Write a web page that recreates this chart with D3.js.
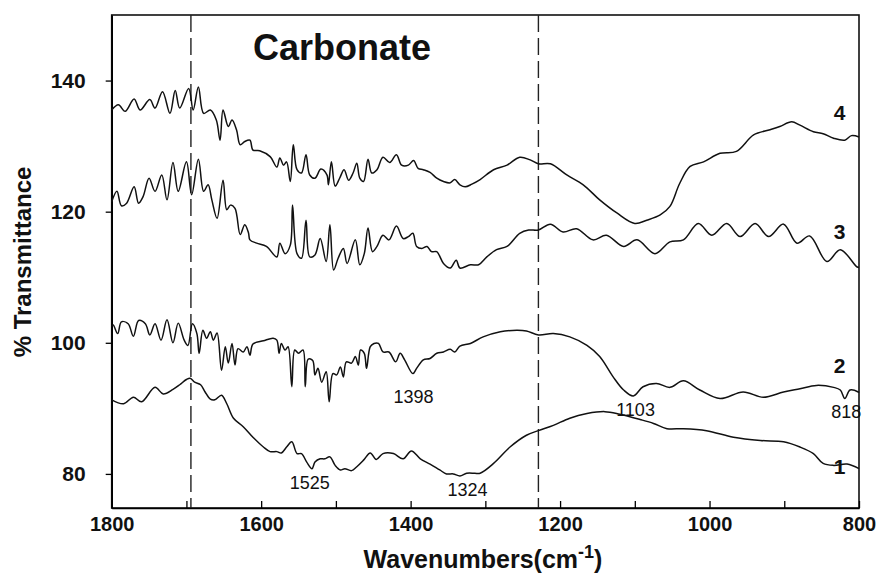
<!DOCTYPE html>
<html><head><meta charset="utf-8">
<script src="https://cdn.jsdelivr.net/npm/d3@7"></script>
<style>body{margin:0;background:#fff}svg{display:block;font-family:"Liberation Sans",Arial,sans-serif}</style>
</head><body><svg id="chart" width="876" height="578"></svg>
<script>
const xTicks = [1800,1600,1400,1200,1000,800];
const xMinorTicks = [1700,1500,1300,1100,900];
const yTicks = [80,100,120,140];
const dashedLines = [1694,1229];
const title = "Carbonate";

const curve4Wn = [1800,1791,1782,1770,1762,1749,1742,1732,1722,1715,1709,1697,1691,1684,1677,1668,1660,1655,1651,1644,1639,1633,1628,1622,1615,1611,1602,1588,1579,1575,1570,1566,1561,1557,1552,1546,1540,1535,1528,1520,1512,1510,1506,1501,1495,1489,1483,1477,1472,1468,1463,1457,1452,1445,1437,1428,1419,1412,1403,1396,1390,1383,1374,1365,1356,1347,1341,1334,1327,1318,1307,1289,1271,1254,1240,1229,1213,1191,1169,1147,1124,1100,1084,1066,1053,1040,1026,1008,986,964,941,919,906,890,879,861,848,834,819,810,800];
const curve4T = [135.5,136.3,135.3,137.2,135.5,137.1,135.8,138.3,135.0,138.5,135.8,138.8,135.5,139.0,135.0,135.5,134.0,130.9,135.5,133.0,134.0,132.5,130.2,130.7,130.9,129.4,129.3,128.4,126.8,128.2,127.1,127.6,124.6,130.2,126.4,125.9,128.7,125.6,125.1,126.5,125.6,124.1,127.6,123.9,125.1,126.4,124.8,125.9,127.4,125.1,124.6,128.0,125.9,126.4,128.3,127.5,128.7,127.1,127.1,127.8,126.6,126.4,126.0,125.1,124.6,124.4,124.9,124.1,123.8,124.2,124.9,126.4,127.1,128.3,127.9,127.3,127.3,125.6,124.1,121.8,119.8,118.2,118.7,119.5,120.8,124.3,126.9,127.6,128.9,129.2,131.7,132.5,133.0,133.7,133.2,132.2,131.9,131.2,130.9,131.6,131.4];

const curve3Wn = [1800,1793,1787,1780,1770,1764,1758,1750,1742,1733,1726,1718,1711,1700,1693,1684,1677,1671,1666,1659,1651,1646,1641,1635,1628,1622,1617,1615,1606,1593,1579,1575,1568,1561,1558,1552,1546,1540,1535,1528,1521,1513,1508,1503,1497,1490,1485,1474,1468,1462,1457,1451,1445,1437,1429,1419,1410,1403,1397,1392,1385,1378,1372,1365,1356,1347,1339,1334,1320,1309,1298,1285,1271,1254,1242,1229,1213,1196,1178,1156,1138,1115,1097,1073,1053,1035,1015,997,977,959,939,921,901,883,866,843,825,803,800];
const curve3T = [121.5,123.1,120.9,121.3,123.8,121.3,122.3,125.1,123.1,125.6,121.8,127.5,123.1,127.6,122.6,128.0,123.1,124.1,121.8,119.0,124.8,120.3,121.0,120.5,116.5,118.0,116.8,115.7,115.2,114.7,113.1,115.2,113.6,114.9,121.0,113.6,112.9,118.7,113.1,113.4,115.9,112.4,118.0,111.1,112.9,114.4,112.1,115.7,111.9,113.6,117.5,113.9,114.7,116.4,115.7,117.8,115.9,116.2,116.7,114.7,114.4,114.7,113.9,113.9,112.1,111.4,112.6,111.4,111.9,111.9,113.1,114.2,114.7,116.7,117.2,117.2,118.1,116.9,117.4,115.7,116.4,114.7,115.7,113.6,115.4,115.7,118.2,116.4,118.2,116.2,118.2,116.2,118.1,115.2,116.3,112.4,114.2,111.6,111.5];

const curve2Wn = [1800,1798,1792,1787,1778,1771,1764,1755,1749,1742,1734,1726,1718,1711,1703,1698,1692,1686,1683,1678,1673,1668,1664,1659,1653,1648,1644,1639,1635,1631,1624,1619,1615,1611,1597,1584,1579,1576,1573,1568,1564,1559,1555,1550,1544,1541,1537,1531,1528,1524,1519,1513,1509,1504,1499,1494,1490,1486,1479,1474,1470,1467,1462,1459,1454,1449,1443,1437,1429,1420,1414,1408,1397,1392,1383,1374,1365,1356,1347,1341,1334,1320,1303,1280,1258,1245,1229,1209,1187,1164,1147,1129,1115,1102,1089,1071,1053,1035,1013,986,955,928,901,879,857,834,825,819,812,801,800];
const curve2T = [102.5,102.7,101.4,103.2,102.9,101.0,103.4,102.9,101.2,102.9,100.4,103.5,100.0,103.0,100.4,99.6,102.9,101.4,98.4,101.9,100.7,101.7,100.4,101.5,95.8,99.4,96.9,99.9,96.6,99.1,98.6,99.4,98.1,99.8,100.3,100.7,100.4,98.4,99.9,98.9,99.4,93.3,98.9,98.4,98.9,93.3,97.5,97.3,95.1,96.1,94.0,95.6,91.0,95.3,95.1,96.3,94.8,97.1,96.9,97.9,96.6,98.9,98.4,96.1,99.4,99.9,99.9,98.6,98.6,97.1,98.4,97.4,95.3,96.1,97.4,97.6,98.4,98.6,99.0,98.6,99.5,99.9,100.9,101.7,101.9,101.8,101.2,101.4,100.9,99.6,97.9,94.8,92.8,91.9,93.3,93.8,93.2,94.2,92.8,91.5,92.5,91.7,92.5,93.0,93.5,93.2,92.8,91.5,92.8,92.5,92.4];

const curve1Wn = [1800,1784,1771,1760,1742,1731,1718,1709,1700,1695,1689,1681,1675,1668,1662,1653,1646,1637,1624,1611,1597,1588,1579,1573,1566,1559,1552,1546,1539,1532,1528,1521,1515,1508,1501,1494,1488,1479,1472,1463,1454,1446,1437,1423,1410,1399,1387,1374,1361,1352,1343,1334,1325,1314,1307,1289,1267,1245,1229,1209,1187,1164,1140,1120,1093,1075,1057,1035,1004,968,932,901,879,861,848,834,816,800];
const curve1T = [91.3,90.7,91.7,91.0,93.2,92.2,92.9,93.6,94.4,94.6,94.0,93.6,92.5,91.4,91.3,92.0,90.7,88.5,87.2,85.6,84.1,83.4,83.4,83.2,84.1,84.9,83.1,83.1,81.8,80.8,81.8,82.3,82.3,82.6,81.3,80.6,80.8,80.5,81.1,82.1,83.2,82.2,83.1,83.1,82.3,83.5,82.3,81.5,80.6,80.0,80.0,79.7,80.1,80.1,80.1,81.6,84.1,85.9,86.6,87.4,88.5,89.2,89.5,89.1,88.3,87.7,86.9,86.9,86.6,85.6,85.1,84.9,84.1,83.1,81.6,81.3,81.5,80.8];

const curveLabels = ["1","2","3","4"];
const curveLabelPos = [[826,81.2],[826,96.5],[826,117.0],[826,135.2]];
const peakLabels = ["1525","1324","1398","1103","818"];
const peakLabelPos = [[1535,78.6],[1324,77.6],[1396,91.8],[1099,89.8],[817,89.4]];

const svg = d3.select("#chart");
const x = d3.scaleLinear().domain([1800,800]).range([111.7,859]);
const y = d3.scaleLinear().domain([74.8,150]).range([508,15]);
const FF = "Liberation Sans, Arial, sans-serif";

// frame
svg.append("rect").attr("x",111.7).attr("y",15).attr("width",859-111.7).attr("height",508-15)
  .attr("fill","none").attr("stroke","#111").attr("stroke-width",1.6);

// dashed lines
svg.selectAll("line.dash").data(dashedLines).enter().append("line")
  .attr("x1",d=>x(d)).attr("x2",d=>x(d)).attr("y1",15).attr("y2",508)
  .attr("stroke","#222").attr("stroke-width",1.4).attr("stroke-dasharray","17,6");

// x axis
const xAxis = d3.axisBottom(x).tickValues(xTicks.concat(xMinorTicks)).tickSizeInner(-7).tickSizeOuter(0)
  .tickFormat(d=>xTicks.includes(d)?d:"");
const gx = svg.append("g").attr("transform","translate(0,508)").call(xAxis);
gx.select(".domain").attr("stroke-width",1.6);
gx.selectAll(".tick line").attr("stroke-width",1.3);
gx.selectAll(".tick text").attr("font-size",20).attr("font-weight","bold").attr("fill","#111").attr("dy","1.0em")
  .attr("font-family",FF);

// y axis
const yAxis = d3.axisLeft(y).tickValues(yTicks).tickSizeInner(6).tickSizeOuter(0).tickPadding(20);
const gy = svg.append("g").attr("transform","translate(111.7,0)").call(yAxis);
gy.select(".domain").attr("stroke-width",1.6);
gy.selectAll(".tick line").attr("stroke-width",1.3);
gy.selectAll(".tick text").attr("font-size",21).attr("font-weight","bold").attr("fill","#111")
  .attr("font-family",FF);

// curves
const line = d3.line().x(d=>x(d[0])).y(d=>y(d[1])).curve(d3.curveCatmullRom.alpha(0.5));
const series = [[curve1Wn,curve1T],[curve2Wn,curve2T],[curve3Wn,curve3T],[curve4Wn,curve4T]];
series.forEach(([w,t])=>{
  svg.append("path").datum(w.map((v,i)=>[v,t[i]])).attr("d",line)
    .attr("fill","none").attr("stroke","#111").attr("stroke-width",1.5).attr("stroke-linejoin","round");
});

// curve labels
svg.selectAll("text.cl").data(curveLabels).enter().append("text")
  .attr("x",(d,i)=>x(curveLabelPos[i][0])).attr("y",(d,i)=>y(curveLabelPos[i][1]))
  .attr("text-anchor","middle").attr("dominant-baseline","central")
  .attr("font-size",21).attr("font-weight","bold").attr("fill","#111").text(d=>d);

// peak labels
svg.selectAll("text.pl").data(peakLabels).enter().append("text")
  .attr("x",(d,i)=>x(peakLabelPos[i][0])).attr("y",(d,i)=>y(peakLabelPos[i][1]))
  .attr("text-anchor","middle").attr("dominant-baseline","central")
  .attr("font-size",18).attr("fill","#111").text(d=>d);

// title
svg.append("text").attr("x",342).attr("y",47).attr("text-anchor","middle").attr("dominant-baseline","central")
  .attr("font-size",36).attr("font-weight","bold").attr("fill","#111").text(title);

// axis titles
const xt = svg.append("text").attr("x",483).attr("y",568).attr("text-anchor","middle")
  .attr("font-size",25).attr("font-weight","bold").attr("fill","#111");
xt.append("tspan").text("Wavenumbers(cm");
xt.append("tspan").attr("font-size",18).attr("dy",-10).text("-1");
xt.append("tspan").attr("dy",10).text(")");

svg.append("text").attr("transform","translate(31,262) rotate(-90)").attr("text-anchor","middle")
  .attr("font-size",24).attr("font-weight","bold").attr("fill","#111").text("% Transmittance");
</script></body></html>
